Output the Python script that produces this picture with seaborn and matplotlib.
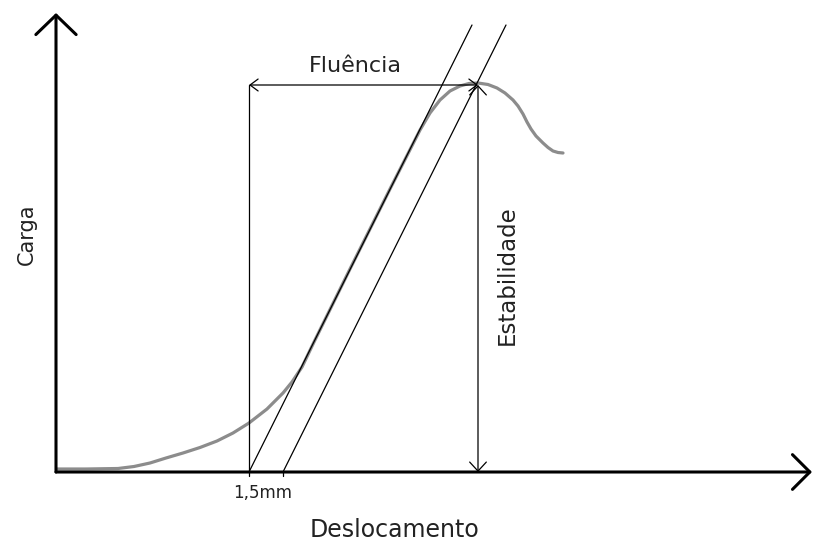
import matplotlib
matplotlib.use("Agg")
import matplotlib.pyplot as plt
import seaborn as sns
import pandas as pd

# load-displacement curve (schematic units)
curve_x = [1, 30, 62, 78, 94, 110, 127, 144, 161, 177, 193, 211, 227, 236,
           246, 258, 294, 334, 364, 374, 384, 394, 404, 413, 422, 432, 441, 449, 457,
           462, 467, 471, 475, 480, 487, 492, 497, 502, 507]
curve_y = [3, 3, 3.5, 5.5, 9, 14, 19, 24.5, 31, 39, 49, 63, 79, 90,
           105, 130, 203, 283, 342, 359, 372, 381, 386, 388.5, 389, 387.5, 384, 379, 372,
           366, 358, 350, 343, 336, 329, 324.5, 321, 319.5, 319]

# parallel lines (tangent and offset by 1,5 mm)
tangent_x = [193, 416]
offset_x = [227, 450]
tangent_y = [0, 447]

guide_x = [193, 422]     # fluencia start / stability point
peak_y = 387
tick_x = [193, 227]
tick_label = "1,5mm"
x_end, y_end = 756, 459

sns.set_style("white")
fig = plt.figure(figsize=(8.15, 5.45), dpi=100)
ax = fig.add_axes([0, 0, 1, 1])

df = pd.DataFrame({"x": curve_x, "y": curve_y})
sns.lineplot(data=df, x="x", y="y", ax=ax, color="#8c8c8c", lw=2.3, sort=False,
             estimator=None, solid_joinstyle="round", solid_capstyle="round")
sns.lineplot(x=tangent_x, y=tangent_y, ax=ax, color="black", lw=0.9, estimator=None)
sns.lineplot(x=offset_x, y=tangent_y, ax=ax, color="black", lw=0.9, estimator=None)
ax.plot([guide_x[0], guide_x[0]], [0, peak_y], color="black", lw=0.9)

for tx in tick_x:
    ax.plot([tx, tx], [0, -4], color="black", lw=0.9)

# axes with arrows
ax.annotate("", xy=(x_end, 0), xytext=(0, 0),
            arrowprops=dict(arrowstyle="->,head_length=1.25,head_width=1.25",
                            lw=2.2, color="black", shrinkA=0, shrinkB=0))
ax.annotate("", xy=(0, y_end), xytext=(0, 0),
            arrowprops=dict(arrowstyle="->,head_length=1.4,head_width=1.45",
                            lw=2.2, color="black", shrinkA=0, shrinkB=0))

# Fluencia and Estabilidade double arrows
ax.annotate("", xy=(guide_x[0], peak_y), xytext=(guide_x[1], peak_y),
            arrowprops=dict(arrowstyle="<->,head_length=0.58,head_width=0.43",
                            lw=0.9, color="black", shrinkA=0, shrinkB=0))
ax.annotate("", xy=(guide_x[1], 0), xytext=(guide_x[1], peak_y),
            arrowprops=dict(arrowstyle="<->,head_length=0.65,head_width=0.6",
                            lw=0.9, color="black", shrinkA=0, shrinkB=0))

c = "#222222"
ax.text(299, 406, "Fluência", ha="center", va="center", fontsize=16, color=c)
ax.text(451, 197, "Estabilidade", ha="center", va="center", fontsize=16.5,
        rotation=90, color=c)
ax.text(-29, 238, "Carga", ha="center", va="center", fontsize=15, rotation=90, color=c)
ax.text(339, -58, "Deslocamento", ha="center", va="center", fontsize=17, color=c)
ax.text(207, -21, tick_label, ha="center", va="center", fontsize=12, color=c)

ax.set_xlim(-56, 759)
ax.set_ylim(-73, 472)
ax.axis("off")
fig.savefig("out.png", dpi=100)
